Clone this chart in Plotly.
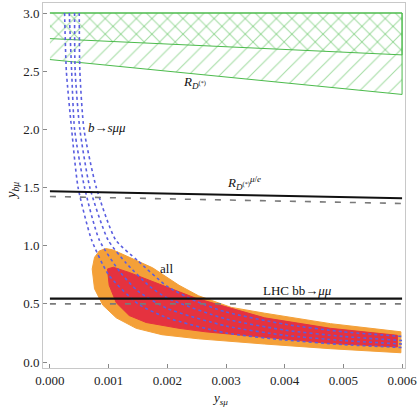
import numpy as np
import plotly.graph_objects as go

# ---------------- data ----------------
# R_D(*) band (green hatched)
rd_x = [0.0, 0.006]
rd_top = [3.0, 3.0]
rd_mid = [2.78, 2.64]
rd_low = [2.60, 2.30]

# R_D(*)^{mu/e} bound and LHC bb->mumu bound
rmue_x = [0.0, 0.006]
rmue_y = [1.468, 1.408]
lhc_x = [0.0, 0.006]
lhc_y = [0.545, 0.545]

# "all" region, 2 sigma (orange) contour
all2_x = [0.00084, 0.00095, 0.00107, 0.00135, 0.00175, 0.0022, 0.00253, 0.00309, 0.00366, 0.00478, 0.00598,
          0.00598, 0.00478, 0.00366, 0.00253, 0.00191, 0.00147, 0.00113, 0.0009, 0.00076, 0.00072, 0.00076, 0.00084]
all2_y = [0.955, 0.975, 0.965, 0.90, 0.81, 0.66, 0.57, 0.47, 0.42, 0.33, 0.26,
          0.08, 0.115, 0.155, 0.20, 0.235, 0.29, 0.38, 0.49, 0.63, 0.80, 0.90, 0.955]

# "all" region, 1 sigma (red) contour
all1_x = [0.00098, 0.00108, 0.00135, 0.00191, 0.00248, 0.00366, 0.00478, 0.00592,
          0.00592, 0.00478, 0.00366, 0.00265, 0.0022, 0.00164, 0.00135, 0.00113, 0.00101, 0.00098]
all1_y = [0.80, 0.815, 0.77, 0.66, 0.55, 0.38, 0.29, 0.23,
          0.13, 0.16, 0.21, 0.26, 0.29, 0.34, 0.40, 0.51, 0.66, 0.80]

# b -> s mu mu bands (blue dotted): four boundary curves
bsmm_o1 = ([0.00025, 0.00028, 0.00037, 0.00048, 0.00071, 0.001, 0.0015, 0.002, 0.003, 0.004, 0.005, 0.006],
           [3.0, 2.5, 2.0, 1.5, 1.05, 0.75, 0.5, 0.38, 0.25, 0.19, 0.15, 0.125])
bsmm_i1 = ([0.00033, 0.00037, 0.00042, 0.00059, 0.00084, 0.0012, 0.0015, 0.002, 0.003, 0.004, 0.005, 0.006],
           [3.0, 2.5, 2.0, 1.5, 1.05, 0.77, 0.61, 0.46, 0.31, 0.23, 0.185, 0.155])
bsmm_i2 = ([0.00042, 0.00043, 0.00051, 0.00068, 0.00099, 0.0013, 0.0017, 0.002, 0.003, 0.004, 0.005, 0.006],
           [3.0, 2.5, 2.0, 1.5, 1.05, 0.85, 0.65, 0.55, 0.37, 0.275, 0.22, 0.185])
bsmm_o2 = ([0.0005, 0.00051, 0.00058, 0.00079, 0.00112, 0.0015, 0.002, 0.0025, 0.003, 0.004, 0.005, 0.006],
           [3.0, 2.5, 2.0, 1.5, 1.05, 0.87, 0.65, 0.52, 0.43, 0.325, 0.26, 0.22])

x_ticks = [0.0, 0.001, 0.002, 0.003, 0.004, 0.005, 0.006]
x_ticklabels = ["0.000", "0.001", "0.002", "0.003", "0.004", "0.005", "0.006"]
y_ticks = [0.0, 0.5, 1.0, 1.5, 2.0, 2.5, 3.0]
y_ticklabels = ["0.0", "0.5", "1.0", "1.5", "2.0", "2.5", "3.0"]

# ---------------- figure ----------------
SERIF = "Liberation Serif, Times New Roman, serif"
GREEN = "#4cbb4c"
fig = go.Figure()

# green hatched R_D(*) region (full band "/" and upper band "\")
fig.add_trace(go.Scatter(
    x=rd_x + rd_x[::-1], y=rd_top + rd_low[::-1], mode="lines", fill="toself",
    fillcolor="rgba(0,0,0,0)", line=dict(color=GREEN, width=1),
    fillpattern=dict(shape="/", fgcolor=GREEN, bgcolor="rgba(255,255,255,0)", size=11, solidity=0.1),
    hoverinfo="skip", showlegend=False))
fig.add_trace(go.Scatter(
    x=rd_x + rd_x[::-1], y=rd_top + rd_mid[::-1], mode="lines", fill="toself",
    fillcolor="rgba(0,0,0,0)", line=dict(color=GREEN, width=1),
    fillpattern=dict(shape="\\", fgcolor=GREEN, bgcolor="rgba(255,255,255,0)", size=11, solidity=0.1),
    hoverinfo="skip", showlegend=False))

# orange / red regions
fig.add_trace(go.Scatter(x=all2_x, y=all2_y, mode="lines", fill="toself",
                         fillcolor="#f4a038", line=dict(color="#f4a038", width=1),
                         hoverinfo="skip", showlegend=False))
fig.add_trace(go.Scatter(x=all1_x, y=all1_y, mode="lines", fill="toself",
                         fillcolor="#e5323f", line=dict(color="#e5323f", width=1),
                         hoverinfo="skip", showlegend=False))

# b -> s mu mu dotted curves
BLUE = "#5a5ee0"
for cx, cy in [bsmm_o1, bsmm_i1, bsmm_i2, bsmm_o2]:
    fig.add_trace(go.Scatter(x=cx, y=cy, mode="lines",
                             line=dict(color=BLUE, width=1.6, dash="dot", shape="spline", smoothing=0.6),
                             hoverinfo="skip", showlegend=False))

# hatched bound lines
for lx, ly in [(rmue_x, rmue_y), (lhc_x, lhc_y)]:
    fig.add_trace(go.Scatter(x=lx, y=list(np.array(ly) - 0.045), mode="lines",
                             line=dict(color="#7a7a7a", width=1.6, dash="6px,9px"),
                             hoverinfo="skip", showlegend=False))
    fig.add_trace(go.Scatter(x=lx, y=ly, mode="lines", line=dict(color="#111111", width=2.2),
                             hoverinfo="skip", showlegend=False))

# labels
lab_font = dict(family=SERIF, size=13, color="#111111")
fig.add_annotation(x=0.00246, y=2.40, text="<i>R</i><sub><i>D</i><sup>(*)</sup></sub>",
                   showarrow=False, font=lab_font)
fig.add_annotation(x=0.00098, y=2.015, text="<i>b</i>→<i>sμμ</i>", showarrow=False, font=lab_font)
fig.add_annotation(x=0.00331, y=1.54, text="<i>R</i><sub><i>D</i><sup>(*)</sup></sub><sup><i>μ</i>/<i>e</i></sup>",
                   showarrow=False, font=lab_font)
fig.add_annotation(x=0.00199, y=0.805, text="all", showarrow=False, font=lab_font)
fig.add_annotation(x=0.00422, y=0.615, text="LHC bb→<i>μμ</i>", showarrow=False, font=lab_font)

# axis titles as annotations
fig.add_annotation(xref="paper", yref="paper", x=0.49, y=-0.083, xanchor="center", yanchor="middle",
                   text="<i>y</i><sub><i>sμ</i></sub>",
                   showarrow=False, font=dict(family=SERIF, size=13, color="#111111"))
fig.add_annotation(xref="paper", yref="paper", x=-0.085, y=0.486, xanchor="center", yanchor="middle",
                   text="<i>y</i><sub><i>bμ</i></sub>",
                   textangle=-90, showarrow=False, font=dict(family=SERIF, size=14, color="#111111"))

axis_common = dict(showgrid=False, zeroline=False, showline=True, linecolor="#c8c8c8", linewidth=1,
                   mirror=True, ticks="inside", ticklen=4, tickcolor="#888888",
                   tickfont=dict(family=SERIF, size=13, color="#222222"))
fig.update_xaxes(range=[-0.000118, 0.00605], tickvals=x_ticks, ticktext=x_ticklabels,
                 ticklabeloverflow="allow", **axis_common)
fig.update_yaxes(range=[-0.051, 3.086], tickvals=y_ticks, ticktext=y_ticklabels, **axis_common)

fig.update_layout(width=419, height=410, margin=dict(l=43, r=11, t=2, b=42),
                  plot_bgcolor="white", paper_bgcolor="white")

fig.write_html("out.html")
